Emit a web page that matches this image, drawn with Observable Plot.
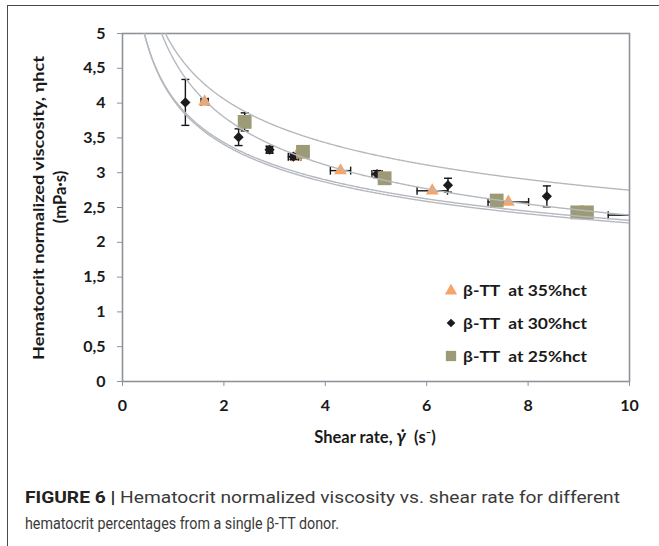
<!DOCTYPE html>
<html><head><meta charset="utf-8">
<script src="https://cdn.jsdelivr.net/npm/d3@7"></script>
<script src="https://cdn.jsdelivr.net/npm/@observablehq/plot@0.6"></script>
<style>
body{margin:0;background:#fff;width:659px;height:546px;overflow:hidden;position:relative;font-family:Lato,sans-serif}
#frame{position:absolute;left:7px;top:5px;width:720px;height:620px;border-left:1.5px solid #4a4a4a;border-top:1.5px solid #4a4a4a}
#chart{position:absolute;left:0;top:0}
#cap{position:absolute;left:0;top:470px}
</style></head><body>
<div id="frame"></div><div id="chart"></div><div id="cap"></div>
<script>
const xTicks=[0,2,4,6,8,10];
const yTicks=[0,0.5,1,1.5,2,2.5,3,3.5,4,4.5,5];
const seriesNames=["β-TT\u00a0\u00a0at 35%hct","β-TT\u00a0\u00a0at 30%hct","β-TT\u00a0\u00a0at 25%hct"];
const seriesColors=["#f5a46a","#1c1c1c","#9d9a76"];
const seriesSymbols=["triangle","diamond2","square"];
const seriesR=[4.8,4.6,7.8];
const x35=[1.62,3.42,4.30,6.11,7.61], y35=[4.02,3.23,3.03,2.74,2.58];
const xe35=[0.07,0.1,0.2,0.3,0.4], ye35=[0.04,0,0,0,0];
const x30=[1.24,2.29,2.90,3.37,5.02,6.42,8.37], y30=[4.01,3.51,3.33,3.23,2.98,2.82,2.66];
const xe30=[0,0,0.06,0.1,0.1,0,0], ye30=[0.33,0.12,0.05,0.04,0.05,0.1,0.15];
const x25=[2.41,3.56,5.17,7.38,8.97,9.16], y25=[3.73,3.3,2.92,2.6,2.43,2.43];
const xe25=[0,0,0,0,0,0], ye25=[0.13,0,0,0,0,0];
const stubX1=[9.58], stubX2=[10], stubY=[2.39];
const fitA=[4.8,4.64,4.07,4.05], fitB=[-0.242,-0.288,-0.245,-0.25];

const sets=[[x35,y35,xe35,ye35],[x30,y30,xe30,ye30],[x25,y25,xe25,ye25]];
const pts=[], vbar=[], hbar=[];
sets.forEach(([xs,ys,xe,ye],s)=>xs.forEach((x,i)=>{
  pts.push({s,x,y:ys[i]});
  if(ye[i]>0) vbar.push({s,x,y1:ys[i]-ye[i],y2:ys[i]+ye[i]});
  if(xe[i]>0) hbar.push({s,y:ys[i],x1:x-xe[i],x2:x+xe[i]});
}));
stubX1.forEach((x,i)=>hbar.push({s:2,y:stubY[i],x1:x,x2:stubX2[i],onlyLeft:true}));
const curves=[];
fitA.forEach((a,k)=>{for(let x=0.3;x<=10.0001;x+=0.02) curves.push({k,x,y:a*Math.pow(x,fitB[k])});});

const hcap={draw(c,size){const r=Math.sqrt(size/Math.PI);c.moveTo(-r,0);c.lineTo(r,0);}};
const vcap={draw(c,size){const r=Math.sqrt(size/Math.PI);c.moveTo(0,-r);c.lineTo(0,r);}};
const ink="#151515", gray="#8e9399";
const marks=[Plot.frame({stroke:gray,strokeWidth:1.6})];
[0,1,2].forEach(s=>{
  const vb=vbar.filter(d=>d.s===s), hb=hbar.filter(d=>d.s===s);
  marks.push(
    Plot.ruleX(vb,{x:"x",y1:"y1",y2:"y2",stroke:ink,strokeWidth:1.4}),
    Plot.dot(vb,{x:"x",y:"y1",symbol:hcap,r:4,stroke:ink,fill:"none",strokeWidth:1.4}),
    Plot.dot(vb,{x:"x",y:"y2",symbol:hcap,r:4,stroke:ink,fill:"none",strokeWidth:1.4}),
    Plot.ruleY(hb,{y:"y",x1:"x1",x2:"x2",stroke:ink,strokeWidth:1.4,clip:true}),
    Plot.dot(hb,{x:"x1",y:"y",symbol:vcap,r:4,stroke:ink,fill:"none",strokeWidth:1.4}),
    Plot.dot(hb.filter(d=>!d.onlyLeft),{x:"x2",y:"y",symbol:vcap,r:4,stroke:ink,fill:"none",strokeWidth:1.4}),
    Plot.dot(pts.filter(d=>d.s===s),{x:"x",y:"y",symbol:seriesSymbols[s],r:seriesR[s],fill:seriesColors[s],stroke:"none"})
  );
});
marks.push(
  Plot.line(curves,{x:"x",y:"y",z:"k",stroke:"#b5b9bf",strokeWidth:1.4,clip:true}),
  Plot.axisX({ticks:xTicks,tickSize:5,tickPadding:13,stroke:gray,fill:"#1a1a1a",fontWeight:"bold",fontSize:16,label:null}),
  Plot.axisY({ticks:yTicks,tickSize:5,tickPadding:12,stroke:gray,fill:"#1a1a1a",fontWeight:"bold",fontSize:16,label:null,
    tickFormat:d=>String(d).replace(".",",")})
);
const plot=Plot.plot({
  width:659,height:460,marginLeft:122,marginRight:30,marginTop:33,marginBottom:79,
  style:{fontFamily:"Lato, sans-serif",background:"transparent",overflow:"visible"},
  x:{domain:[0,10]},y:{domain:[0,5]},marks
});
document.getElementById("chart").appendChild(plot);
const svg=d3.select(plot);
// legend
const lg=svg.append("g");
const rows=[290,323,356];
const symFn={triangle:d3.symbolTriangle,diamond2:d3.symbolDiamond2,square:d3.symbolSquare};
seriesNames.forEach((n,s)=>{
  lg.append("path").attr("transform",`translate(451,${rows[s]+(s===0?1:0)})`)
    .attr("d",d3.symbol(symFn[seriesSymbols[s]],Math.PI*Math.pow([4.6,3.9,5.8][s],2))())
    .attr("fill",seriesColors[s]);
  lg.append("text").attr("x",463).attr("y",rows[s]).attr("dy","0.36em").attr("text-anchor","start")
    .attr("font-family","Lato, sans-serif").attr("font-weight","bold").attr("font-size",16)
    .attr("fill","#1a1a1a").attr("textLength",124).attr("lengthAdjust","spacingAndGlyphs").text(n);
});
// x label
const xl=svg.append("text").attr("x",375).attr("y",437).attr("dy","0.36em").attr("text-anchor","middle")
  .attr("font-family","Lato, sans-serif").attr("font-weight","bold").attr("font-size",16.5).attr("fill","#1a1a1a");
xl.append("tspan").text("Shear rate, ");
xl.append("tspan").attr("font-style","italic").attr("font-size",18).text("γ̇");
xl.append("tspan").text("\u00a0\u00a0(s⁻)");
// y label
svg.append("text").attr("transform","translate(38,208) rotate(-90)").attr("text-anchor","middle").attr("dy","0.36em")
  .attr("font-family","Lato, sans-serif").attr("font-weight","bold").attr("font-size",16).attr("fill","#1a1a1a")
  .attr("textLength",304).attr("lengthAdjust","spacingAndGlyphs").text("Hematocrit normalized viscosity, ηhct");
svg.append("text").attr("transform","translate(60,197) rotate(-90)").attr("text-anchor","middle").attr("dy","0.36em")
  .attr("font-family","Lato, sans-serif").attr("font-weight","bold").attr("font-size",16.5).attr("fill","#1a1a1a")
  .text("(mPa·s)");
// caption
const cs=d3.select("#cap").append("svg").attr("width",659).attr("height",76);
const t1=cs.append("text").attr("x",25).attr("y",27).attr("dy","0.36em").attr("font-family","Roboto, sans-serif").attr("font-size",16.5)
  .attr("fill","#3a3a3a").attr("textLength",595).attr("lengthAdjust","spacingAndGlyphs");
t1.append("tspan").attr("font-weight","bold").attr("fill","#222").text("FIGURE 6 | ");
t1.append("tspan").text("Hematocrit normalized viscosity vs. shear rate for different");
cs.append("text").attr("x",25).attr("y",53).attr("dy","0.36em").attr("font-family","Roboto, sans-serif").attr("font-size",16.5)
  .attr("fill","#3a3a3a").attr("textLength",314).attr("lengthAdjust","spacingAndGlyphs").text("hematocrit percentages from a single β-TT donor.");
</script>
</body></html>
